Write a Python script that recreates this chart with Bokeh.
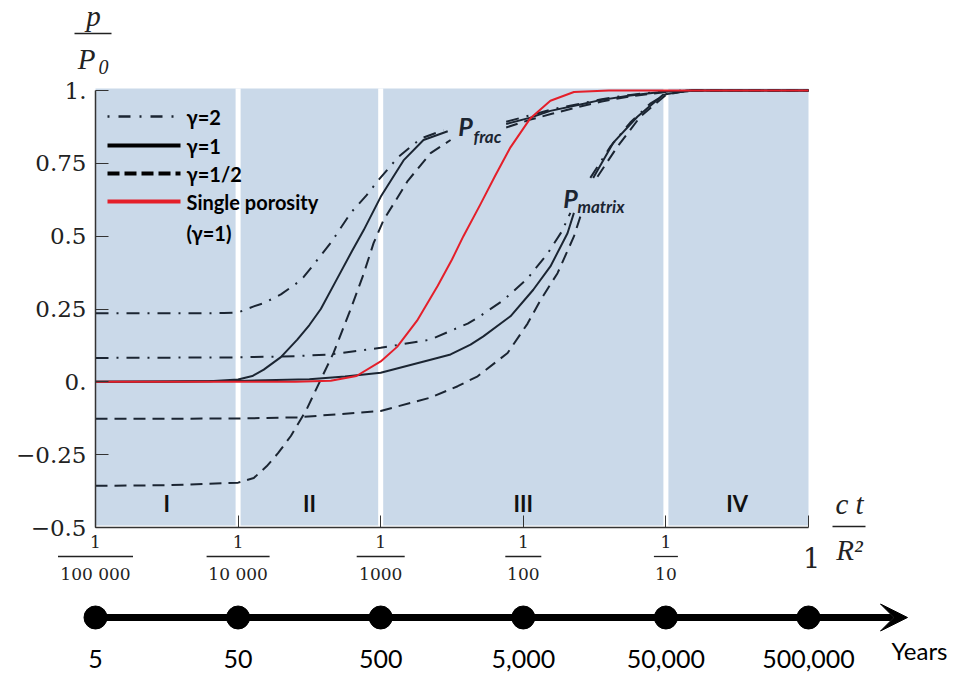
import numpy as np
from bokeh.plotting import figure
from bokeh.models import (Range1d, FixedTicker, Label, Arrow, VeeHead, LinearAxis,
                          LogAxis, LogScale)
from bokeh.embed import file_html
from bokeh.resources import INLINE
from bokeh.core.properties import value

# ---------------- data ----------------
x_ticks = [1e-5, 1e-4, 1e-3, 1e-2, 1e-1, 1.0]
x_tick_num = ["1", "1", "1", "1", "1", ""]
x_tick_den = ["100 000", "10 000", "1000", "100", "10", ""]
y_ticks = [-0.5, -0.25, 0.0, 0.25, 0.5, 0.75, 1.0]
y_tick_labels = ["\u22120.5", "\u22120.25", "0.", "0.25", "0.5", "0.75", "1."]

region_edges = [1e-5, 1e-4, 1e-3, 1e-1, 1.0]
region_names = ["I", "II", "III", "IV"]

years = [5, 50, 500, 5000, 50000, 500000]
year_labels = ["5", "50", "500", "5,000", "50,000", "500,000"]

legend_labels = ["\u03b3=2", "\u03b3=1", "\u03b3=1/2", "Single porosity", "(\u03b3=1)"]

# curves: log10(c t / R^2)  and  p / P0
# fracture pressure, gamma = 2 (dash-dot)
frac_g2_lg = [-5, -4.5, -4.1, -4.0, -3.89, -3.82, -3.7, -3.585, -3.54, -3.45, -3.35, -3.21, -3.1, -3.02, -2.88, -2.72, -2.56]
frac_g2_p = [0.235, 0.235, 0.236, 0.238, 0.259, 0.27, 0.30, 0.34, 0.36, 0.415, 0.477, 0.58, 0.64, 0.69, 0.77, 0.835, 0.864]
frac_g2_lg_b = [-2.12, -1.95, -1.8, -1.6, -1.45, -1.25, -1.0, -0.8, 0.0]
frac_g2_p_b = [0.893, 0.915, 0.935, 0.955, 0.97, 0.985, 0.998, 1.0, 1.0]
# fracture pressure, gamma = 1 (solid)
frac_g1_lg = [-5, -4.5, -4.2, -4.0, -3.9, -3.82, -3.7, -3.585, -3.5, -3.42, -3.31, -3.2, -3.12, -3.0, -2.84, -2.70, -2.53]
frac_g1_p = [0.0, 0.0, 0.002, 0.008, 0.02, 0.042, 0.085, 0.145, 0.195, 0.25, 0.35, 0.45, 0.52, 0.635, 0.76, 0.83, 0.86]
frac_g1_lg_b = [-2.12, -1.95, -1.81, -1.6, -1.46, -1.25, -1.02, -0.8, 0.0]
frac_g1_p_b = [0.885, 0.907, 0.93, 0.952, 0.967, 0.983, 0.996, 1.0, 1.0]
# fracture pressure, gamma = 1/2 (dashed)
frac_gh_lg = [-5, -4.5, -4.0, -3.89, -3.80, -3.72, -3.63, -3.52, -3.42, -3.33, -3.21, -3.12, -3.05, -2.98, -2.81, -2.65, -2.51]
frac_gh_p = [-0.357, -0.355, -0.346, -0.33, -0.29, -0.245, -0.186, -0.095, 0.008, 0.10, 0.25, 0.37, 0.476, 0.555, 0.69, 0.785, 0.83]
frac_gh_lg_b = [-2.12, -1.95, -1.8, -1.6, -1.45, -1.25, -1.0, -0.8, 0.0]
frac_gh_p_b = [0.873, 0.9, 0.92, 0.945, 0.962, 0.98, 0.995, 1.0, 1.0]

# matrix pressure, gamma = 2 (dash-dot)
mat_g2_lg = [-5, -4.5, -4.0, -3.6, -3.35, -3.0, -2.65, -2.51, -2.39, -2.32, -2.14, -1.97, -1.83, -1.73, -1.67]
mat_g2_p = [0.082, 0.083, 0.084, 0.088, 0.094, 0.117, 0.145, 0.175, 0.2, 0.22, 0.28, 0.355, 0.44, 0.516, 0.58]
mat_g2_lg_b = [-1.53, -1.39, -1.25, -1.11, -0.99, -0.8, 0.0]
mat_g2_p_b = [0.70, 0.807, 0.89, 0.955, 0.99, 1.0, 1.0]
# matrix pressure, gamma = 1 (solid)
mat_g1_lg = [-5, -4.0, -3.5, -3.25, -3.0, -2.65, -2.51, -2.37, -2.28, -2.09, -1.93, -1.81, -1.69, -1.645]
mat_g1_p = [0.0, 0.003, 0.009, 0.018, 0.031, 0.076, 0.094, 0.128, 0.156, 0.225, 0.316, 0.396, 0.51, 0.58]
mat_g1_lg_b = [-1.51, -1.37, -1.20, -1.02, -0.85, 0.0]
mat_g1_p_b = [0.70, 0.82, 0.91, 0.985, 1.0, 1.0]
# matrix pressure, gamma = 1/2 (dashed)
mat_gh_lg = [-5, -4.0, -3.585, -3.0, -2.65, -2.46, -2.32, -2.11, -1.97, -1.88, -1.76, -1.645, -1.60]
mat_gh_p = [-0.127, -0.126, -0.122, -0.10, -0.054, -0.015, 0.019, 0.099, 0.20, 0.28, 0.373, 0.499, 0.567]
mat_gh_lg_b = [-1.48, -1.34, -1.18, -1.0, -0.85, 0.0]
mat_gh_p_b = [0.704, 0.807, 0.91, 0.985, 1.0, 1.0]

# single porosity (gamma = 1, red)
single_lg = [-5, -4.0, -3.6, -3.35, -3.17, -3.0, -2.885, -2.745, -2.6, -2.5, -2.42, -2.3, -2.2, -2.09, -1.95, -1.81, -1.645, -1.4, 0.0]
single_p = [0.0, 0.0, 0.0, 0.004, 0.02, 0.07, 0.12, 0.21, 0.33, 0.42, 0.50, 0.61, 0.705, 0.805, 0.905, 0.965, 0.995, 1.0, 1.0]

# ---------------- layout (pixel geometry of the canvas) ----------------
W, H = 957, 681
FL, FR = 95, 808          # pixel columns of c t/R^2 = 1e-5 and 1
Y1PX, YM5PX = 90, 527     # pixel rows of p/P0 = 1 and -0.5
PPU = (YM5PX - Y1PX) / 1.5
DEC = (FR - FL) / 5.0

def X(px):
    return 10 ** (-5 + (px - FL) / DEC)

def Y(py):
    return 1.0 - (py - Y1PX) / PPU

def YR(px):
    return years[0] * 10 ** ((px - FL) / DEC)

BLUE = "#cad9e9"
INK = "#1b2532"
RED = "#e41f2a"
AX = "#333333"
DASH = "12 7"
DASHDOT = "13 8 2 8"

p = figure(width=W, height=H, x_axis_type="log",
           x_range=Range1d(X(0), X(W)), y_range=Range1d(Y(H), Y(0)),
           x_axis_location=None, y_axis_location=None,
           output_backend="svg", toolbar_location=None, min_border=0)
p.extra_x_ranges = {"years": Range1d(YR(0), YR(W))}
p.extra_x_scales = {"years": LogScale()}
p.outline_line_color = None
p.grid.visible = False
p.background_fill_color = "white"
p.border_fill_color = "white"

# regions
p.quad(left=region_edges[:-1], right=region_edges[1:], bottom=Y(525), top=Y(88),
       fill_color=BLUE, line_color=None)
inner = region_edges[1:-1]
p.segment(x0=inner, y0=[Y(527)] * len(inner), x1=inner, y1=[Y(88)] * len(inner),
          line_color="white", line_width=5)
centers = [np.sqrt(a * b) for a, b in zip(region_edges[:-1], region_edges[1:])]
p.text(x=centers, y=[Y(503)] * 4, text=region_names, text_align="center",
       text_baseline="middle", text_font=value("Lato"), text_font_style="bold",
       text_font_size="22px", text_color="#111111")

def curve(lg, val, dash, color=INK, w=2.0):
    p.line(x=10 ** np.array(lg, dtype=float), y=val, line_color=color,
           line_width=w, line_dash=dash, line_join="round", line_cap="butt")

curve(mat_g2_lg, mat_g2_p, DASHDOT)
curve(mat_g2_lg_b, mat_g2_p_b, DASHDOT)
curve(mat_g1_lg, mat_g1_p, "solid")
curve(mat_g1_lg_b, mat_g1_p_b, "solid")
curve(mat_gh_lg, mat_gh_p, DASH)
curve(mat_gh_lg_b, mat_gh_p_b, DASH)
curve(frac_g2_lg, frac_g2_p, DASHDOT)
curve(frac_g2_lg_b, frac_g2_p_b, DASHDOT)
curve(frac_g1_lg, frac_g1_p, "solid")
curve(frac_g1_lg_b, frac_g1_p_b, "solid")
curve(frac_gh_lg, frac_gh_p, DASH)
curve(frac_gh_lg_b, frac_gh_p_b, DASH)
curve(single_lg, single_p, "solid", RED, 2.0)

# legend
leg_rows = [116, 145, 173, 201]
leg_styles = [("2 9 12 9", INK, 2.5), ("solid", "black", 4), ("12 5", "black", 4), ("solid", RED, 4)]
for row, (dash, col, lw) in zip(leg_rows, leg_styles):
    p.line(x=[X(107), X(180)], y=[Y(row), Y(row)], line_color=col, line_width=lw, line_dash=dash)
p.text(x=[X(186)] * 5, y=[Y(r) for r in [116, 145, 173, 201, 232]], text=legend_labels,
       text_align="left", text_baseline="middle", text_font=value("Lato"),
       text_font_style="bold", text_font_size="20px", text_color="black")

# curve annotations
for txt, px, py in [("P", 465, 125), ("P", 570, 197)]:
    p.add_layout(Label(x=X(px), y=Y(py), text=txt, text_align="center", text_baseline="middle",
                       text_font="Lato", text_font_style="bold italic", text_font_size="25px",
                       text_color=INK))
for txt, px, py in [("frac", 473, 136), ("matrix", 577, 206)]:
    p.add_layout(Label(x=X(px), y=Y(py), text=txt, text_align="left", text_baseline="middle",
                       text_font="Lato", text_font_style="bold italic", text_font_size="17px",
                       text_color=INK))

# axes (drawn at fixed data locations)
yax = LinearAxis(fixed_location=x_ticks[0], bounds=(y_ticks[0], y_ticks[-1]))
yax.ticker = FixedTicker(ticks=y_ticks)
yax.major_label_overrides = dict(zip(y_ticks, y_tick_labels))
yax.major_label_text_font = "DejaVu Serif"
yax.major_label_text_font_size = "23px"
yax.major_label_text_color = "#222222"
yax.major_tick_in = 13
yax.major_tick_out = 0
yax.minor_tick_line_color = None
yax.axis_line_color = AX
yax.axis_line_width = 1.5
yax.major_tick_line_color = AX
yax.major_label_standoff = 9
p.add_layout(yax, "left")

xax = LogAxis(fixed_location=y_ticks[0], bounds=(x_ticks[0], x_ticks[-1]))
xax.ticker = FixedTicker(ticks=x_ticks)
xax.major_label_overrides = {t: (n + "\n" + d if n else " ") for t, n, d in zip(x_ticks, x_tick_num, x_tick_den)}
xax.major_label_text_font = "DejaVu Serif"
xax.major_label_text_font_size = "17px"
xax.major_label_text_line_height = 1.6
xax.major_label_text_color = "#222222"
xax.major_tick_in = 12
xax.major_tick_out = 0
xax.minor_tick_line_color = None
xax.axis_line_color = AX
xax.axis_line_width = 1.5
xax.major_tick_line_color = AX
xax.major_label_standoff = 4
p.add_layout(xax, "below")

# fraction bars of the x tick labels
bar_px = [75, 63, 48, 36, 24]
hw = [10 ** (w / 2 / DEC) for w in bar_px]
p.segment(x0=[t / h for t, h in zip(x_ticks[:-1], hw)], x1=[t * h for t, h in zip(x_ticks[:-1], hw)],
          y0=[Y(556)] * 5, y1=[Y(556)] * 5, line_color="#222222", line_width=1.3)
p.add_layout(Label(x=X(811), y=Y(557), text="1", text_align="center", text_baseline="middle",
                   text_font="DejaVu Serif", text_font_size="27px", text_color="#222222"))

# axis titles as fractions
def math_label(px, py, txt, size="29px", align="center"):
    p.add_layout(Label(x=X(px), y=Y(py), text=txt, text_align=align, text_baseline="middle",
                       text_font="Liberation Serif", text_font_style="italic",
                       text_font_size=size, text_color="#222222"))

math_label(93, 15, "p")
math_label(86, 58, "P")
math_label(103, 66, "0", size="20px")
math_label(849, 503, "c t")
math_label(849, 549, "R\u00b2")
p.segment(x0=[X(74), X(832)], x1=[X(111), X(865)], y0=[Y(33), Y(526)], y1=[Y(33), Y(526)],
          line_color="#222222", line_width=1.5)

# ---------------- timeline (years) ----------------
LINE_Y = Y(617)
p.add_layout(Arrow(x_start=years[0], x_end=YR(907), y_start=LINE_Y, y_end=LINE_Y,
                   x_range_name="years", line_width=7, line_color="black",
                   end=VeeHead(size=27, fill_color="black", line_color="black", line_width=1)))
p.scatter(x=years, y=[LINE_Y] * len(years), x_range_name="years", size=23,
          fill_color="black", line_color="black")

tax = LogAxis(x_range_name="years", fixed_location=LINE_Y)
tax.ticker = FixedTicker(ticks=years)
tax.major_label_overrides = dict(zip(years, year_labels))
tax.axis_line_color = None
tax.major_tick_line_color = None
tax.minor_tick_line_color = None
tax.major_tick_in = 0
tax.major_tick_out = 0
tax.major_label_text_font = "Lato"
tax.major_label_text_font_size = "25px"
tax.major_label_text_color = "black"
tax.major_label_standoff = 32
p.add_layout(tax, "below")

p.add_layout(Label(x=X(919), y=Y(650), text="Years", text_align="center",
                   text_baseline="middle", text_font="Lato", text_font_size="24px",
                   text_color="black"))

open("out.html", "w").write(file_html(p, INLINE))
